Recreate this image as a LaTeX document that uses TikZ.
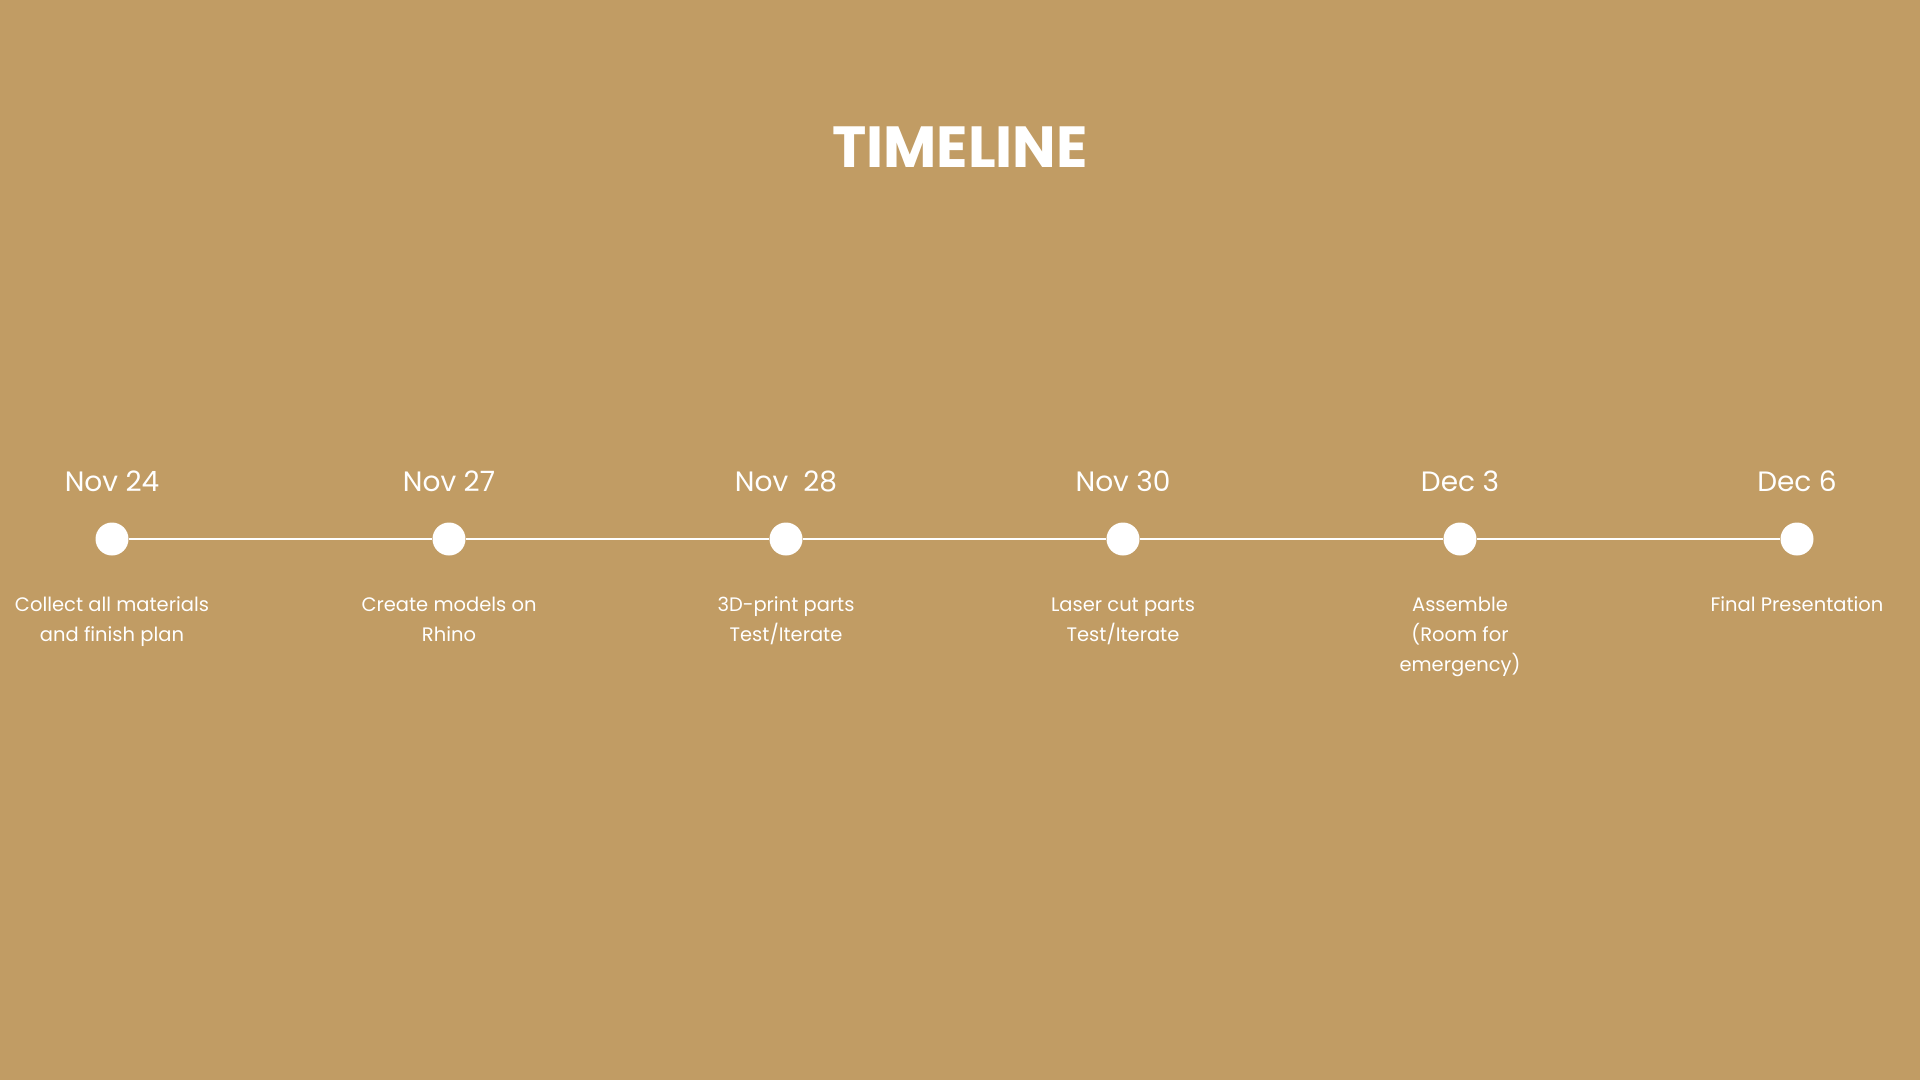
\documentclass[tikz,border=0pt]{standalone}
\usepackage{fontspec}
\setmainfont{Poppins}
\definecolor{bg}{HTML}{C19C64}
\begin{document}
\begin{tikzpicture}[x=1pt,y=-1pt,
  dot/.style={circle,fill=white,minimum size=33pt,inner sep=0pt},
  datelbl/.style={text=white,anchor=base,inner sep=0pt,font=\fontsize{28}{32}\selectfont},
  desc/.style={text=white,anchor=north,inner sep=0pt,align=center,font=\fontsize{19.5}{30}\selectfont},
  ttl/.style={text=white,anchor=base,inner sep=0pt,font=\bfseries\fontsize{58}{64}\selectfont}]
\fill[bg] (0,0) rectangle (1920,1080);
\useasboundingbox (0,0) rectangle (1920,1080);
\node[ttl] (title) at (960,167) {TIMELINE};
\foreach \i/\d/\t in {0/Nov 24/{Collect all materials\\and finish plan},
                     1/Nov 27/{Create models on\\Rhino},
                     2/Nov\ \ 28/{3D-print parts\\Test/Iterate},
                     3/Nov 30/{Laser cut parts\\Test/Iterate},
                     4/Dec 3/{Assemble\\(Room for\\emergency)},
                     5/Dec 6/{Final Presentation}}{
  \node[dot] (p\i) at ({112+337*\i},539) {};
  \node[datelbl] (d\i) at ({112+337*\i},491) {\d};
  \node[desc] (t\i) at ({112+337*\i},590) {\strut\t};
}
\foreach \i [evaluate=\i as \j using int(\i+1)] in {0,...,4}{
  \draw[white,line width=2pt] (p\i) -- (p\j);
}
\end{tikzpicture}
\end{document}
